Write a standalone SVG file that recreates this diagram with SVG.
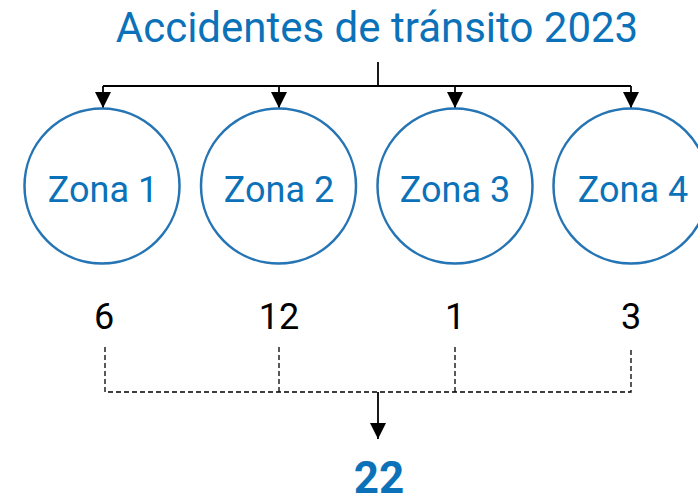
<svg xmlns="http://www.w3.org/2000/svg" width="698" height="498" viewBox="0 0 698 498">
<style>
.title{font-family:Roboto,"Liberation Sans",sans-serif;font-size:42px;fill:#0b72b9;text-anchor:middle}
.zone circle{fill:#fff;stroke:#2574b4;stroke-width:2.5}
.zone text{font-family:Roboto,"Liberation Sans",sans-serif;font-size:36px;fill:#0b72b9;text-anchor:middle}
.num{font-family:Roboto,"Liberation Sans",sans-serif;font-size:36px;fill:#000;text-anchor:middle}
.total{font-family:Roboto,"Liberation Sans",sans-serif;font-size:44px;font-weight:bold;fill:#0b72b9;text-anchor:middle}
.solid{fill:none;stroke:#000;stroke-width:1.8}
.dash{fill:none;stroke:#000;stroke-width:1.3;stroke-dasharray:5 3}
</style>
<defs>
<marker id="arr" viewBox="0 0 10 10" refX="10" refY="5" markerWidth="16" markerHeight="16" markerUnits="userSpaceOnUse" orient="auto">
<path d="M0,0 L10,5 L0,10 Z" fill="#000"/>
</marker>
</defs>
<text class="title" x="377" y="42">Accidentes de tránsito 2023</text>
<g id="connectors">
<path class="solid" d="M378,62 V86"/>
<path class="solid" d="M103,86 H631"/>
<path class="solid" d="M103,86 V108" marker-end="url(#arr)"/>
<path class="solid" d="M279,86 V108" marker-end="url(#arr)"/>
<path class="solid" d="M455,86 V108" marker-end="url(#arr)"/>
<path class="solid" d="M631,86 V108" marker-end="url(#arr)"/>
<path class="dash" d="M105,347 V392 H631 V347"/>
<path class="dash" d="M279,347 V392"/>
<path class="dash" d="M455,347 V392"/>
<path class="solid" d="M378,392 V439" marker-end="url(#arr)"/>
</g>
<g id="zona1" class="zone"><circle cx="102" cy="186" r="77.5"/><text x="103" y="202">Zona 1</text></g>
<g id="zona2" class="zone"><circle cx="278.5" cy="186" r="77.5"/><text x="279" y="202">Zona 2</text></g>
<g id="zona3" class="zone"><circle cx="455" cy="186" r="77.5"/><text x="455" y="202">Zona 3</text></g>
<g id="zona4" class="zone"><circle cx="631" cy="186" r="77.5"/><text x="633" y="202">Zona 4</text></g>
<g id="n1"><text class="num" x="104" y="329">6</text></g>
<g id="n2"><text class="num" x="279" y="329">12</text></g>
<g id="n3"><text class="num" x="455" y="329">1</text></g>
<g id="n4"><text class="num" x="631" y="329">3</text></g>
<g id="total"><text class="total" x="379" y="493">22</text></g>
</svg>
